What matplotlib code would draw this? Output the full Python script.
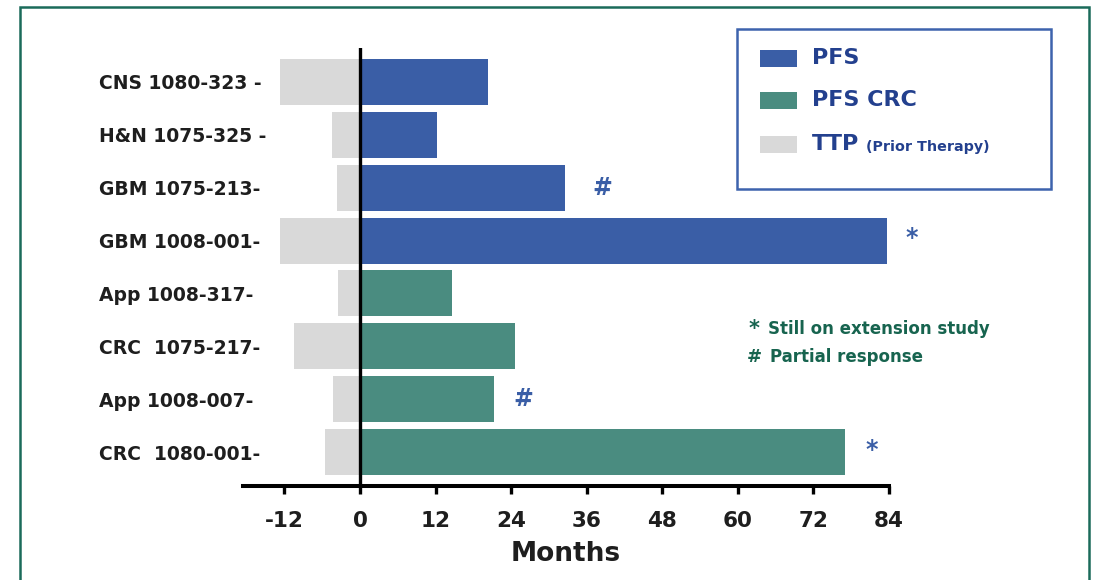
import matplotlib
matplotlib.use("Agg")
import matplotlib.pyplot as plt
from matplotlib.patches import Rectangle

# ---------------- data ----------------
patients = ["CNS 1080-323 -", "H&N 1075-325 -", "GBM 1075-213-", "GBM 1008-001-",
            "App 1008-317-", "CRC  1075-217-", "App 1008-007-", "CRC  1080-001-"]
pfs_months = [20.3, 12.2, 32.6, 83.7, 14.6, 24.6, 21.3, 77.0]
is_crc = [False, False, False, False, True, True, True, True]
ttp_prior_months = [-12.7, -4.4, -3.6, -12.7, -3.5, -10.5, -4.3, -5.6]
marker_symbols = ["", "", "#", "*", "", "", "#", "*"]
x_ticks = [-12, 0, 12, 24, 36, 48, 60, 72, 84]
legend_labels = ["PFS", "PFS CRC", "TTP"]
legend_suffix = "(Prior Therapy)"
notes = [("*", "Still on extension study"), ("#", "Partial response")]

# ---------------- style ----------------
BLUE = "#3a5ea6"
GREEN = "#4a8c80"
GRAY = "#d9d9d9"
LEG_BORDER = "#3d63ad"
LEG_TEXT = "#23408e"
NOTE_GREEN = "#17644f"
FRAME = "#1a6b5a"
TXT = "#1e1e1e"
FONT = "DejaVu Sans"
marker_offsets_px = [0, 0, 37, 25, 0, 0, 29, 27]

W, H = 1094, 580
fig = plt.figure(figsize=(W / 100, H / 100), dpi=100)
plt.rcParams["font.family"] = [FONT]

def fx(px):
    return px / W

def fy(py):
    return 1 - py / H

ax = fig.add_axes([fx(243), fy(486), fx(889) - fx(243), fy(48) - fy(486)])

ypos = list(range(len(patients)))
pfs_colors = [GREEN if c else BLUE for c in is_crc]
ax.barh(ypos, ttp_prior_months, height=0.87, color=GRAY, zorder=2)
ax.barh(ypos, pfs_months, height=0.87, color=pfs_colors, zorder=2)
ax.axvline(0, color="black", lw=2.4, zorder=4)

ax.set_xlim(-18.57, 84)
ax.set_ylim(len(patients) - 1 + 0.643, -0.643)

for sp in ["top", "right", "left"]:
    ax.spines[sp].set_visible(False)
ax.spines["bottom"].set_linewidth(2.9)
ax.spines["bottom"].set_color("black")

ax.set_xticks(x_ticks)
ax.set_xticklabels([str(t) for t in x_ticks], fontsize=15.5, fontweight="bold", color=TXT)
ax.tick_params(axis="x", direction="out", length=6, width=2.4, color="black", pad=12)

ax.set_yticks(ypos)
ax.set_yticklabels(patients, fontsize=13.5, fontweight="bold", color=TXT)
ax.tick_params(axis="y", length=0, pad=(243 - 99) * 0.72)
for lab in ax.get_yticklabels():
    lab.set_horizontalalignment("left")

ax.set_xlabel("Months", fontsize=19, fontweight="bold", color=TXT, labelpad=7)

# markers next to bars
for i, (sym, v) in enumerate(zip(marker_symbols, pfs_months)):
    if not sym:
        continue
    dy = 0 if sym == "#" else 1.7
    ax.annotate(sym, xy=(v, i), xytext=(marker_offsets_px[i] * 0.72, dy),
                textcoords="offset points", ha="center", va="center",
                fontsize=17, fontweight="bold", color=BLUE,
                annotation_clip=False)

# notes
note_y = [329, 357]
for (sym, txt), yy in zip(notes, note_y):
    fig.text(fx(754), fy(yy), sym, ha="center", va="center", fontsize=13 if sym == "#" else 15,
             fontweight="bold", color=NOTE_GREEN)
    fig.text(fx(768 if sym == "*" else 770), fy(yy), txt, ha="left", va="center",
             fontsize=12, fontweight="bold", color=NOTE_GREEN)

# legend box
fig.patches.append(Rectangle((fx(737), fy(189)), fx(1051) - fx(737), fy(29) - fy(189),
                             transform=fig.transFigure, fill=False, ec=LEG_BORDER, lw=1.8))
leg_colors = [BLUE, GREEN, GRAY]
leg_y = [58.5, 100.5, 144.5]
for lab, col, yy in zip(legend_labels, leg_colors, leg_y):
    fig.patches.append(Rectangle((fx(760), fy(yy + 8.5)), fx(797) - fx(760), fy(yy - 8.5) - fy(yy + 8.5),
                                 transform=fig.transFigure, fc=col, ec="none"))
    fig.text(fx(812), fy(yy - 1), lab, ha="left", va="center", fontsize=16,
             fontweight="bold", color=LEG_TEXT)
fig.text(fx(866), fy(leg_y[-1] + 3), legend_suffix, ha="left", va="center", fontsize=10.3,
         fontweight="bold", color=LEG_TEXT)

# outer frame
fig.patches.append(Rectangle((fx(20), fy(600)), fx(1089) - fx(20), fy(7) - fy(600),
                             transform=fig.transFigure, fill=False, ec=FRAME, lw=1.8))

fig.savefig("out.png", dpi=100)
